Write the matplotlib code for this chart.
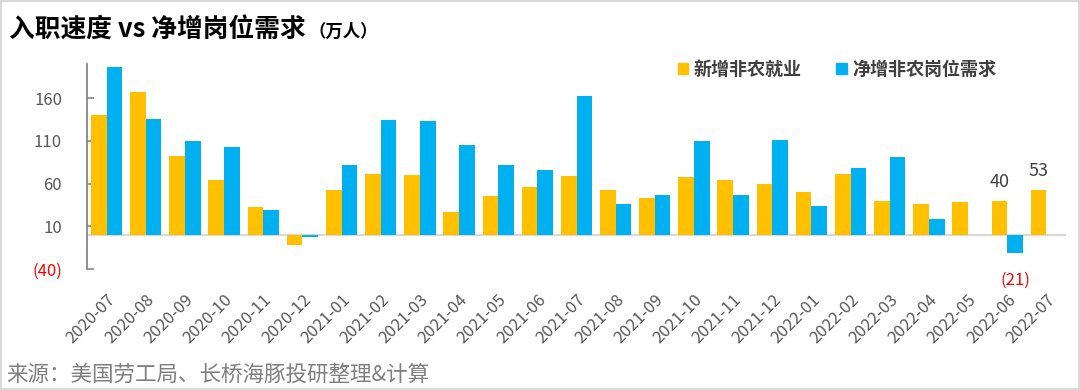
import matplotlib
matplotlib.use("Agg")
import matplotlib.pyplot as plt
import numpy as np
from matplotlib.patches import Patch, Rectangle

plt.rcParams['font.family'] = ['Noto Sans CJK SC', 'DejaVu Sans']

months = ["2020-07", "2020-08", "2020-09", "2020-10", "2020-11", "2020-12",
          "2021-01", "2021-02", "2021-03", "2021-04", "2021-05", "2021-06",
          "2021-07", "2021-08", "2021-09", "2021-10", "2021-11", "2021-12",
          "2022-01", "2022-02", "2022-03", "2022-04", "2022-05", "2022-06",
          "2022-07"]
nfp = [140, 167, 92, 64, 33, -12, 52, 71, 70, 27, 45, 56, 69, 52, 43, 68,
       64, 59, 50, 71, 40, 36, 38, 40, 53]
openings = [197, 136, 110, 103, 29, -2, 82, 134, 133, 105, 82, 76, 163, 36,
            47, 110, 47, 111, 34, 78, 91, 19, np.nan, -21, np.nan]
yticks = [-40, 10, 60, 110, 160]
ytick_labels = ["(40)", "10", "60", "110", "160"]
series_names = ["新增非农就业", "净增非农岗位需求"]

YELLOW = "#FFC000"
BLUE = "#00B0F0"

fig = plt.figure(figsize=(10.8, 3.9), dpi=100)
ax = fig.add_axes([0.0806, 0.310, 0.9064, 0.526])

x = np.arange(len(months))
w = 0.4
ax.bar(x - w / 2, nfp, width=w, color=YELLOW, zorder=2)
ax.bar(x + w / 2, openings, width=w, color=BLUE, zorder=2)

ax.set_xlim(-0.5, len(months) - 0.5)
ax.set_ylim(-40, 200)
ax.axhline(0, color="#d9d9d9", lw=1.6, zorder=1)

for s in ["top", "right", "bottom"]:
    ax.spines[s].set_visible(False)
ax.spines["left"].set_color("#868686")
ax.spines["left"].set_linewidth(1.3)

ax.set_yticks(yticks)
ax.set_yticklabels(ytick_labels)
ax.tick_params(axis="y", direction="in", length=5, width=1.2, color="#868686",
               labelsize=12, labelcolor="#595959", pad=18)
for lbl in ax.get_yticklabels():
    if lbl.get_text().startswith("("):
        lbl.set_color("#FF0000")

ax.set_xticks(x)
ax.set_xticklabels(months, rotation=45, ha="right", va="top",
                   rotation_mode="anchor")
ax.tick_params(axis="x", length=0, labelsize=12, labelcolor="#595959", pad=16)

# data labels
i6 = months.index("2022-06")
i7 = months.index("2022-07")
ax.annotate(f"{nfp[i6]:.0f}", (x[i6] - w / 2, nfp[i6]), xytext=(0, 7),
            textcoords="offset points", ha="center", va="bottom",
            fontsize=13, color="#404040")
ax.annotate(f"{nfp[i7]:.0f}", (x[i7] - w / 2, nfp[i7]), xytext=(0, 7),
            textcoords="offset points", ha="center", va="bottom",
            fontsize=13, color="#404040")
ax.annotate(f"({abs(openings[i6]):.0f})", (x[i6] + w / 2, openings[i6]),
            xytext=(0, -14), textcoords="offset points", ha="center", va="top",
            fontsize=12, color="#FF0000")

handles = [Patch(color=YELLOW), Patch(color=BLUE)]
leg = fig.legend(handles, series_names, loc="center", bbox_to_anchor=(0.775, 0.822),
                 ncol=2, frameon=False, handlelength=0.6, handleheight=0.6,
                 handletextpad=0.3, columnspacing=1.9,
                 prop={"size": 13, "weight": "bold"})
for t in leg.get_texts():
    t.set_color("#404040")

fig.text(0.008, 0.922, "入职速度 vs 净增岗位需求", fontsize=18.5, fontweight="bold",
         color="#000000", ha="left", va="center")
fig.text(0.286, 0.918, "（万人）", fontsize=12.5, fontweight="bold",
         color="#000000", ha="left", va="center")
fig.text(0.006, 0.040, "来源：美国劳工局、长桥海豚投研整理&计算", fontsize=15.5,
         color="#7f7f7f", ha="left", va="center")

fig.patches.append(Rectangle((0, 0), 1, 1, transform=fig.transFigure,
                             fill=False, edgecolor="#d9d9d9", lw=3))

fig.savefig("out.png", dpi=100)
